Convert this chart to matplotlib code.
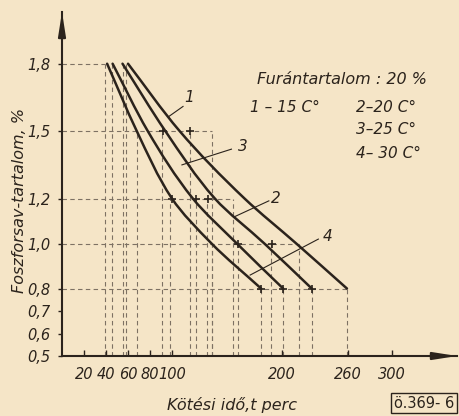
import matplotlib
matplotlib.use("Agg")
import matplotlib.pyplot as plt
from matplotlib.path import Path
from matplotlib.patches import PathPatch
import numpy as np

# ---------------- data ----------------
levels = [1.8, 1.5, 1.2, 1.0, 0.8]          # Foszforsav-tartalom, %
# fitted curves: x (perc) where each curve crosses the levels above
curve_1 = [60, 107, 166, 213, 259]          # 15 C°
curve_2 = [55, 94, 139, 184, 227]           # 20 C°
curve_3 = [46, 78, 119, 159, 201]           # 25 C°
curve_4 = [41, 68, 100, 136, 181]           # 30 C°
# measured points (dashed guide lines) per level
meas_18 = [39, 45, 55, 58]
meas_15 = [68, 91, 116, 136]
meas_12 = [98, 122, 132, 155]
meas_10 = [136, 160, 190, 215]
meas_08 = [181, 201, 227, 259]
# "+" marks
plus_x = [92, 116, 100, 122, 133, 160, 191, 181, 201, 227]
plus_y = [1.5, 1.5, 1.2, 1.2, 1.2, 1.0, 1.0, 0.8, 0.8, 0.8]

yticks = [0.5, 0.6, 0.7, 0.8, 1.0, 1.2, 1.5, 1.8]
ytick_labels = ["0,5", "0,6", "0,7", "0,8", "1,0", "1,2", "1,5", "1,8"]
xticks = [20, 40, 60, 80, 100, 200, 260, 300]
xtick_labels = ["20", "40", "60", "80", "100", "200", "260", "300"]

title_text = "Furántartalom : 20 %"
legend_items = ["1 – 15 C°", "2–20 C°", "3–25 C°", "4– 30 C°"]
ylabel = "Foszforsav-tartalom, %"
xlabel = "Kötési idő,t perc"
stamp = "ö.369- 6"

# ---------------- style ----------------
BG = "#f5e5c7"
INK = "#2b231c"
DASH = "#7d7163"
FONT = ["Liberation Sans Narrow", "DejaVu Sans"]
plt.rcParams["font.family"] = FONT
plt.rcParams["font.style"] = "italic"

W, H = 459, 416
fig = plt.figure(figsize=(W / 100, H / 100), dpi=100, facecolor=BG)
x0, y0, x1, y1 = 62, 356, 457, 12
ax = fig.add_axes([x0 / W, 1 - y0 / H, (x1 - x0) / W, (y0 - y1) / H])
ax.set_facecolor(BG)
ax.set_xlim(0, 359)
ax.set_ylim(0.5, 2.03)

# dashed guide lines
meas = [meas_18, meas_15, meas_12, meas_10, meas_08]
dash_kw = dict(color=DASH, lw=0.8, ls=(0, (4, 3)), zorder=1)
for lev, xs in zip(levels, meas):
    xend = min(xs) if lev == 1.8 else max(xs)
    ax.plot([0, xend], [lev, lev], **dash_kw)
    for xv in xs:
        ax.plot([xv, xv], [0.5, lev], **dash_kw)


def hermite_path(xs, ys):
    """Monotone cubic (x as a function of y) through the read points,
    expressed as Bezier segments so matplotlib draws it in data coords."""
    y = np.asarray(ys, float)
    x = np.asarray(xs, float)
    h = np.diff(y)
    d = np.diff(x) / h
    n = len(x)
    m = np.zeros(n)
    m[0], m[-1] = d[0], d[-1]
    for i in range(1, n - 1):
        if d[i - 1] * d[i] <= 0:
            m[i] = 0
        else:
            w1 = 2 * h[i] + h[i - 1]
            w2 = h[i] + 2 * h[i - 1]
            m[i] = (w1 + w2) / (w1 / d[i - 1] + w2 / d[i])
    verts = [(x[0], y[0])]
    codes = [Path.MOVETO]
    for i in range(n - 1):
        hh = h[i]
        verts += [(x[i] + m[i] * hh / 3, y[i] + hh / 3),
                  (x[i + 1] - m[i + 1] * hh / 3, y[i + 1] - hh / 3),
                  (x[i + 1], y[i + 1])]
        codes += [Path.CURVE4] * 3
    return Path(verts, codes)


for cx in [curve_1, curve_2, curve_3, curve_4]:
    ax.add_patch(PathPatch(hermite_path(cx, levels), fill=False,
                           edgecolor=INK, lw=1.8, zorder=3,
                           capstyle="round", joinstyle="round"))

ax.plot(plus_x, plus_y, ls="none", marker="+", ms=6, mew=1.2, color=INK, zorder=4)

# curve labels with leader lines
txt_kw = dict(color=INK, fontsize=11, style="italic")
lab = [("1", 111, 1.65, 110, 1.61, 97, 1.565),
       ("2", 190, 1.2, 188, 1.19, 157, 1.12),
       ("3", 160, 1.43, 154, 1.42, 109, 1.35),
       ("4", 237, 1.03, 233, 1.02, 171, 0.86)]
for t, tx, ty, lx0, ly0, lx1, ly1 in lab:
    ax.text(tx, ty, t, ha="left", va="center", **txt_kw)
    ax.plot([lx0, lx1], [ly0, ly1], color=INK, lw=0.8, zorder=2)

# legend block
fig.text(257 / W, 1 - 80 / H, title_text, ha="left", va="center", color=INK, fontsize=11.5)
fig.text(250 / W, 1 - 107 / H, legend_items[0], ha="left", va="center", color=INK, fontsize=11)
fig.text(356 / W, 1 - 107 / H, legend_items[1], ha="left", va="center", color=INK, fontsize=11)
fig.text(356 / W, 1 - 130 / H, legend_items[2], ha="left", va="center", color=INK, fontsize=11)
fig.text(356 / W, 1 - 153 / H, legend_items[3], ha="left", va="center", color=INK, fontsize=11)

# axes styling
for s in ["top", "right"]:
    ax.spines[s].set_visible(False)
for s in ["left", "bottom"]:
    ax.spines[s].set_color(INK)
    ax.spines[s].set_linewidth(1.5)
ax.set_yticks(yticks)
ax.set_yticklabels(ytick_labels)
ax.set_xticks(xticks)
ax.set_xticklabels(xtick_labels)
ax.tick_params(axis="y", direction="out", length=3, width=1, colors=INK,
               labelsize=10.5, pad=5)
ax.tick_params(axis="x", direction="in", length=4, width=1, colors=INK,
               labelsize=10.5, pad=8)

# arrow heads
ax.annotate("", xy=(0, 1.0), xytext=(0, 0.92), xycoords="axes fraction",
            arrowprops=dict(arrowstyle="-|>,head_length=1.4,head_width=0.22",
                            color=INK, lw=1.5, shrinkA=0, shrinkB=0))
ax.annotate("", xy=(1.0, 0), xytext=(0.93, 0), xycoords="axes fraction",
            arrowprops=dict(arrowstyle="-|>,head_length=1.4,head_width=0.22",
                            color=INK, lw=1.5, shrinkA=0, shrinkB=0))

fig.text(20 / W, 1 - 200 / H, ylabel, rotation=90, ha="center", va="center",
         color=INK, fontsize=11.5)
fig.text(232 / W, 1 - 405 / H, xlabel, ha="center", va="center",
         color=INK, fontsize=11.5)
fig.text(424 / W, 1 - 403 / H, stamp, ha="center", va="center", color=INK,
         fontsize=10.5, style="normal",
         bbox=dict(boxstyle="square,pad=0.2", fc=BG, ec=INK, lw=1))

fig.savefig("out.png", dpi=100, facecolor=BG)
